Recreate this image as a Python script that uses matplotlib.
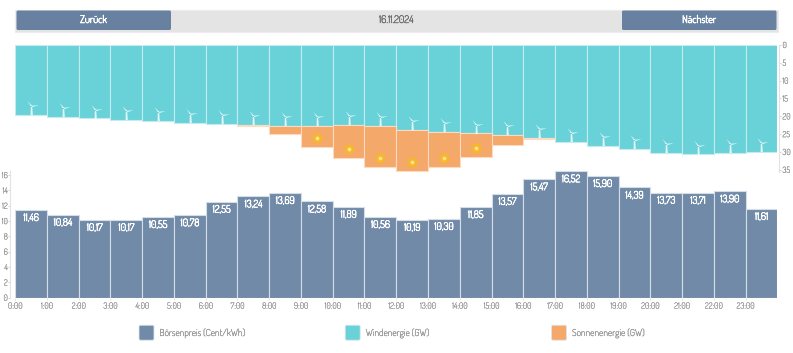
import matplotlib
matplotlib.use('Agg')
import matplotlib.pyplot as plt
import matplotlib.patheffects as pe
from matplotlib.patches import FancyBboxPatch, Rectangle
from matplotlib.path import Path
from matplotlib import font_manager as fm

# the chart uses a narrow rounded font, Roboto (smaller) if it is not there
names = {f.name for f in fm.fontManager.ttflist}
has_dosis = 'Dosis' in names
plt.rcParams['font.family'] = ['Dosis' if has_dosis else 'Roboto', 'DejaVu Sans']
fs = 1.0 if has_dosis else 0.8

W, H = 793, 353

hours = [f'{h}:00' for h in range(24)]
prices = [11.46, 10.84, 10.17, 10.17, 10.55, 10.78, 12.55, 13.24, 13.69, 12.58, 11.89, 10.56,
          10.19, 10.30, 11.85, 13.57, 15.47, 16.52, 15.90, 14.39, 13.73, 13.71, 13.90, 11.61]
wind = [19.7, 20.1, 20.6, 21.0, 21.4, 21.8, 22.2, 22.5, 22.6, 22.6, 22.4, 22.7,
        23.7, 24.4, 24.8, 25.2, 26.0, 27.2, 28.2, 29.2, 30.2, 30.7, 30.2, 30.1]
solar = [0, 0, 0, 0, 0, 0, 0, 0.3, 2.4, 5.9, 9.2, 11.5,
         11.6, 9.8, 6.6, 2.7, 0.3, 0, 0, 0, 0, 0, 0, 0]
wind_ticks = [0, 5, 10, 15, 20, 25, 30, 35]
price_ticks = [0, 2, 4, 6, 8, 10, 12, 14, 16]
legend_labels = ['Börsenpreis (Cent/kWh)', 'Windenergie (GW)', 'Sonnenenergie (GW)']

SLATE = '#708aa8'
BTN = '#6881a0'
TEAL = '#69d2d9'
ORANGE = '#f4a86a'
GREY = '#888888'


def px_axes(x0, y0, x1, y1):
    return fig.add_axes([x0 / W, 1 - y1 / H, (x1 - x0) / W, (y1 - y0) / H])


def thicken(txt, lw):
    # the installed font only renders in its light weight, so stroke it
    if has_dosis:
        txt.set_path_effects([pe.withStroke(linewidth=lw, foreground=txt.get_color())])


def turbine():
    # small wind turbine, hub at the origin, units are pixels (y up)
    parts = [[(-0.7, 0.2), (-3.9, 5.4), (0.7, 0.5)],
             [(-0.2, 0.7), (7.3, 1.3), (0.2, -0.7)],
             [(-0.7, 0), (-0.9, -8.6), (1.3, -8.6), (0.7, 0)]]
    verts, codes = [], []
    for p in parts:
        verts += p + [p[0]]
        codes += [Path.MOVETO] + [Path.LINETO] * (len(p) - 1) + [Path.CLOSEPOLY]
    return Path(verts, codes)


fig = plt.figure(figsize=(W / 100, H / 100), dpi=100)

# page furniture in pixel coordinates
bg = fig.add_axes([0, 0, 1, 1])
bg.set_xlim(0, W)
bg.set_ylim(H, 0)
bg.axis('off')
bg.add_patch(Rectangle((15, 9.5), 763, 22, fc='#e4e4e4', ec='#ececec', lw=0.8))
for x0, label in [(16.5, 'Zurück'), (622, 'Nächster')]:
    bg.add_patch(FancyBboxPatch((x0, 10.5), 154.5, 19.5, boxstyle='round,pad=0,rounding_size=1.5',
                                fc=BTN, ec='none'))
    t = bg.text(x0 + 77, 20, label, color='white', fontsize=7.5 * fs, ha='center', va='center')
    thicken(t, 0.45)
t = bg.text(396, 20, '16.11.2024', color='#666666', fontsize=7.5 * fs, ha='center', va='center')
thicken(t, 0.25)
for x0, color, label in zip([139, 345.2, 551.5], [SLATE, TEAL, ORANGE], legend_labels):
    bg.add_patch(FancyBboxPatch((x0, 325.2), 15, 15, boxstyle='round,pad=0,rounding_size=1.5',
                                fc=color, ec='#dfe6ea', lw=0.6))
    t = bg.text(x0 + 20.5, 333, label, color=GREY, fontsize=6.9 * fs, ha='left', va='center')
    thicken(t, 0.13)

x = list(range(24))
sx = [i for i in x if solar[i] > 0]

# energy chart, hanging from the top
ax = px_axes(15.2, 45, 777.3, 171.5)
ax.bar(x, wind, width=1, align='edge', color=TEAL, edgecolor='#c4ecef', linewidth=0.8, joinstyle='round')
ax.bar(sx, [solar[i] for i in sx], bottom=[wind[i] for i in sx], width=1, align='edge', color=ORANGE,
       edgecolor='#fbdcc2', linewidth=0.8, joinstyle='round')
ax.set_xlim(0, 24)
ax.set_ylim(35.47, 0)
ax.patch.set_alpha(0)
for s in ['top', 'left', 'bottom']:
    ax.spines[s].set_visible(False)
ax.spines['right'].set_position(('outward', 1.2))
ax.spines['right'].set_color('#e2e2e2')
ax.yaxis.tick_right()
ax.set_xticks([])
ax.set_yticks(wind_ticks)
ax.tick_params(axis='y', length=1.5, width=0.6, color='#cccccc', labelsize=6 * fs, labelcolor=GREY, pad=1)
for i in x:
    m, = ax.plot(i + 0.5, wind[i] - 2.5, marker=turbine(), ms=12.4, mfc='#e4f7f8', mec='none', zorder=4)
    m.set_snap(False)
    if solar[i] > 5:
        sun_y = wind[i] + solar[i] - 2.4
        ax.plot(i + 0.5, sun_y, 'o', ms=7.4, mfc='#f6b632', mec='none', zorder=4)
        ax.plot(i + 0.5, sun_y, 'o', ms=2.8, mfc='#fde28a', mec='none', zorder=5)

# price chart
ax2 = px_axes(15.2, 171, 777.3, 297.7)
ax2.bar(x, prices, width=1, align='edge', color=SLATE, edgecolor='#d5dee6', linewidth=0.8, joinstyle='round')
ax2.set_xlim(0, 24)
ax2.set_ylim(0, 16.54)
ax2.patch.set_alpha(0)
for s in ['top', 'right', 'bottom']:
    ax2.spines[s].set_visible(False)
ax2.spines['left'].set_position(('outward', 3.6))
ax2.spines['left'].set_color('#e2e2e2')
ax2.set_yticks(price_ticks)
ax2.set_xticks(x)
ax2.set_xticklabels(hours)
ax2.tick_params(axis='y', length=1.2, width=0.6, color='#cccccc', labelsize=6 * fs, labelcolor=GREY, pad=0.6)
ax2.tick_params(axis='x', length=1.5, width=0.6, color='#dddddd', labelsize=6 * fs, labelcolor=GREY, pad=2)
for lab in ax.get_yticklabels() + ax2.get_yticklabels() + ax2.get_xticklabels():
    thicken(lab, 0.12)
for i, p in zip(x, prices):
    t = ax2.annotate(f'{p:.2f}'.replace('.', ','), (i + 0.5, p), xytext=(0, -5.8), textcoords='offset points',
                     color='white', fontsize=7.4 * fs, ha='center', va='center')
    thicken(t, 0.45)

plt.savefig('out.png', dpi=100)
plt.close()
